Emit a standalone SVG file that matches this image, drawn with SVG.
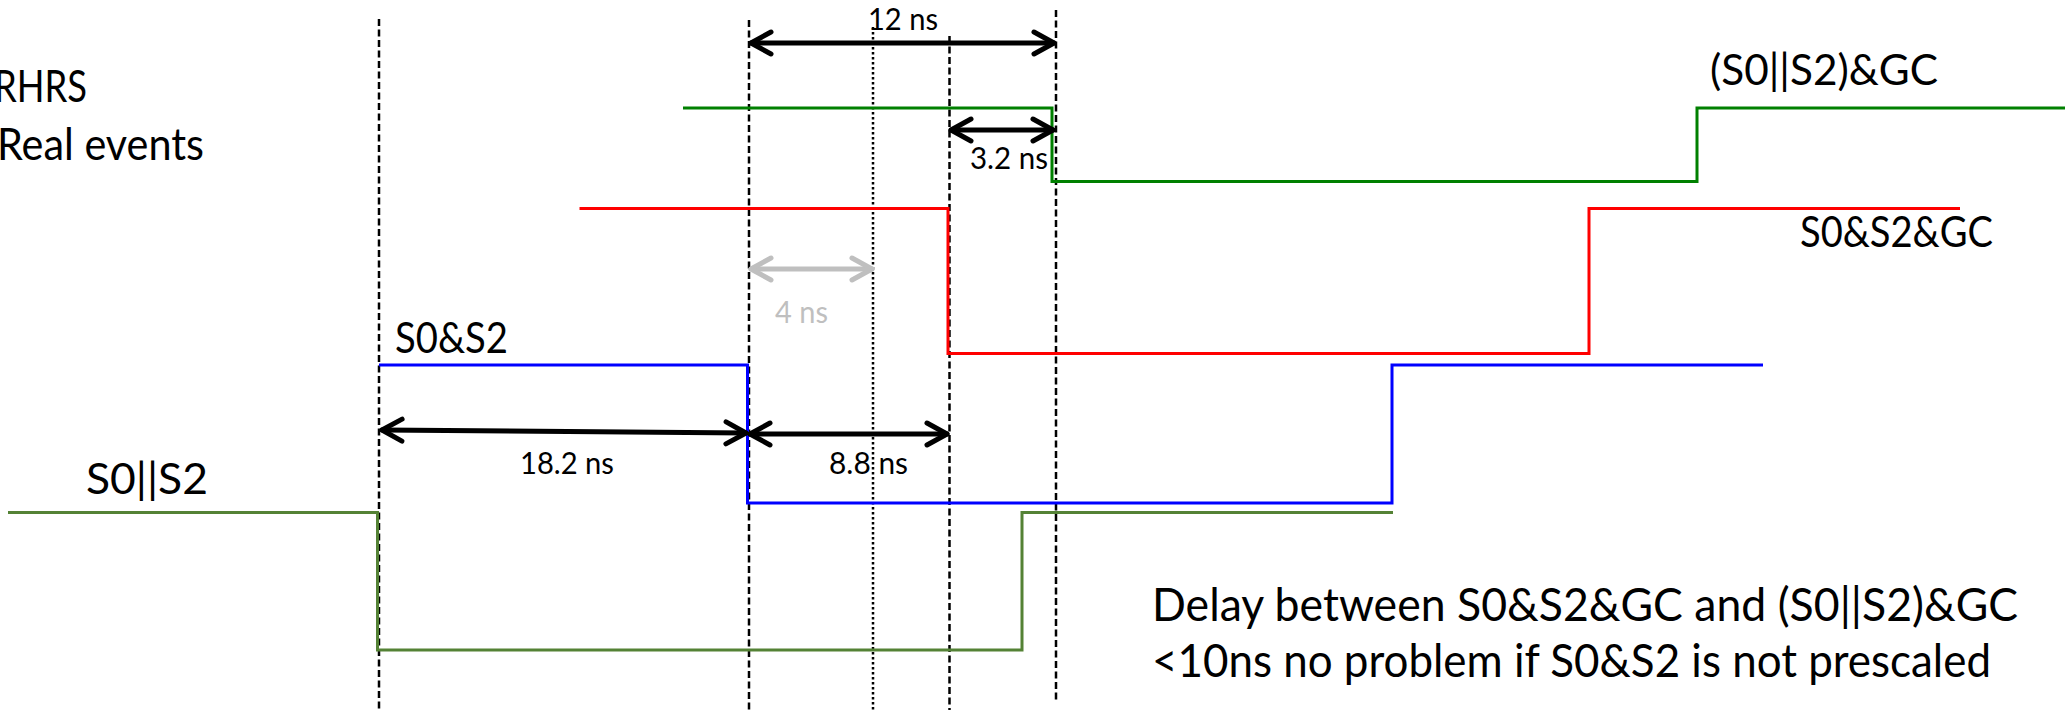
<svg xmlns="http://www.w3.org/2000/svg" width="2065" height="710" viewBox="0 0 2065 710">
<style>
  text { font-family: Lato, "Liberation Sans", sans-serif; fill: #000; }
  .big { font-size: 44px; }
  .lbl { font-size: 42px; }
  .dim { font-size: 31px; }
  .note { font-size: 47px; }
  .sig { fill: none; stroke-width: 3; stroke-linejoin: miter; }
  .dash { stroke: #000; stroke-width: 2.5; stroke-dasharray: 7 3.5; }
  .dot { stroke: #000; stroke-width: 2.5; stroke-dasharray: 2.5 2.5; }
  .arr { stroke: #000; stroke-width: 5; stroke-linecap: round; marker-start: url(#ahB); marker-end: url(#ahB); }
  .arrG { stroke: #BFBFBF; stroke-width: 5; stroke-linecap: round; marker-start: url(#ahG); marker-end: url(#ahG); }
</style>
<defs>
  <marker id="ahB" markerUnits="userSpaceOnUse" viewBox="-25 -15 30 30" refX="0" refY="0" markerWidth="30" markerHeight="30" orient="auto-start-reverse" overflow="visible">
    <path d="M-20,-11 L0,0 L-20,11" fill="none" stroke="#000" stroke-width="5" stroke-linecap="round" stroke-linejoin="round"/>
  </marker>
  <marker id="ahG" markerUnits="userSpaceOnUse" viewBox="-25 -15 30 30" refX="0" refY="0" markerWidth="30" markerHeight="30" orient="auto-start-reverse" overflow="visible">
    <path d="M-20,-11 L0,0 L-20,11" fill="none" stroke="#BFBFBF" stroke-width="5" stroke-linecap="round" stroke-linejoin="round"/>
  </marker>
</defs>
<rect width="2065" height="710" fill="#fff"/>

<g id="title">
  <text class="big" x="-6" y="102" textLength="93" lengthAdjust="spacingAndGlyphs">RHRS</text>
  <text class="big" x="-3" y="160" textLength="207" lengthAdjust="spacingAndGlyphs">Real events</text>
</g>

<g id="guides">
  <line class="dash" x1="379" y1="19" x2="379" y2="710"/>
  <line class="dash" x1="749" y1="20" x2="749" y2="710"/>
  <line class="dot" x1="873" y1="27" x2="873" y2="710"/>
  <line class="dash" x1="949.5" y1="36" x2="949.5" y2="710"/>
  <line class="dash" x1="1056" y1="10" x2="1056" y2="700"/>
</g>

<g id="sig-or-gc">
  <polyline class="sig" stroke="#008000" points="683,108 1052,108 1052,181.5 1697,181.5 1697,108 2065,108"/>
  <text class="lbl" x="1710" y="85" textLength="228" lengthAdjust="spacingAndGlyphs">(S0||S2)&amp;GC</text>
</g>

<g id="sig-and-gc">
  <polyline class="sig" stroke="#FF0000" points="579.5,208.5 948,208.5 948,353.5 1589,353.5 1589,208.5 1960,208.5"/>
  <text class="lbl" x="1800" y="247" textLength="193" lengthAdjust="spacingAndGlyphs">S0&amp;S2&amp;GC</text>
</g>

<g id="sig-and">
  <polyline class="sig" stroke="#0000FF" points="379,365 747.5,365 747.5,503 1392,503 1392,365 1763,365"/>
  <text class="lbl" x="395" y="353" textLength="113" lengthAdjust="spacingAndGlyphs">S0&amp;S2</text>
</g>

<g id="sig-or">
  <polyline class="sig" stroke="#548235" points="8,512.5 377.5,512.5 377.5,650 1022,650 1022,512.5 1393,512.5"/>
  <text class="lbl" x="86" y="494" textLength="122" lengthAdjust="spacingAndGlyphs">S0||S2</text>
</g>

<g id="connectors">
  <line class="arr" x1="751" y1="43" x2="1054" y2="43"/>
  <line class="arr" x1="951" y1="130" x2="1053" y2="130"/>
  <line class="arrG" x1="751" y1="269" x2="872" y2="269"/>
  <line class="arr" x1="382" y1="430" x2="746" y2="433"/>
  <line class="arr" x1="750" y1="434" x2="947" y2="434"/>
</g>

<g id="dim-labels">
  <text class="dim" x="868" y="30" textLength="70" lengthAdjust="spacingAndGlyphs">12 ns</text>
  <text class="dim" x="970" y="169" textLength="78" lengthAdjust="spacingAndGlyphs">3.2 ns</text>
  <text class="dim" x="775" y="323" textLength="53" lengthAdjust="spacingAndGlyphs" style="fill:#BFBFBF">4 ns</text>
  <text class="dim" x="520" y="474" textLength="94" lengthAdjust="spacingAndGlyphs">18.2 ns</text>
  <text class="dim" x="829" y="474" textLength="79" lengthAdjust="spacingAndGlyphs">8.8 ns</text>
</g>

<g id="note">
  <text class="note" x="1152" y="621" textLength="866" lengthAdjust="spacingAndGlyphs">Delay between S0&amp;S2&amp;GC and (S0||S2)&amp;GC</text>
  <text class="note" x="1152" y="677" textLength="839" lengthAdjust="spacingAndGlyphs">&lt;10ns no problem if S0&amp;S2 is not prescaled</text>
</g>
</svg>
